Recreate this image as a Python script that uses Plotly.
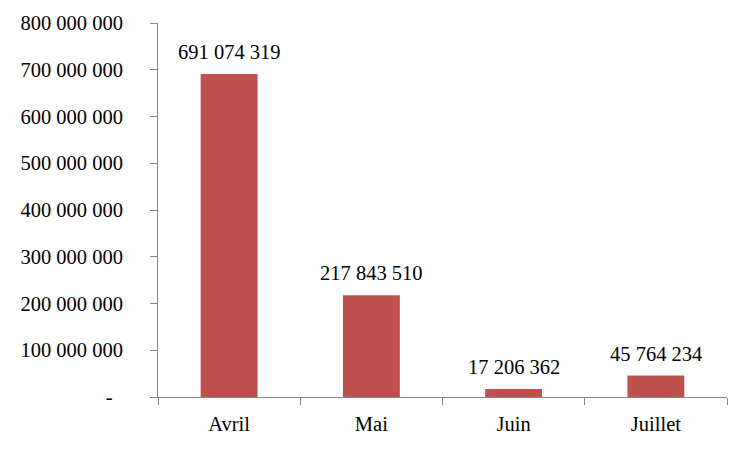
import plotly.graph_objects as go

months = ["Avril", "Mai", "Juin", "Juillet"]
values = [691074319, 217843510, 17206362, 45764234]
y_ticks = [0, 100000000, 200000000, 300000000, 400000000, 500000000, 600000000, 700000000, 800000000]

def fmt(v):
    return f"{v:,}".replace(",", " ")

tick_text = ["-\u00a0\u00a0" if t == 0 else fmt(t) for t in y_ticks]
FONT = "'Liberation Serif', 'Times New Roman', serif"
FS = 20.5

fig = go.Figure(go.Bar(
    x=months, y=values,
    marker=dict(color="#C0504D", line=dict(width=0)),
    hoverinfo="x+y",
))

for m, v in zip(months, values):
    fig.add_annotation(
        x=m, y=v, text=fmt(v), showarrow=False,
        xanchor="center", yanchor="bottom", yshift=9,
        font=dict(family=FONT, size=FS, color="black"),
    )

# page body has an 8px margin, so the figure is shifted by (8, 8)
fig.update_layout(
    width=742, height=442,
    margin=dict(l=150, r=23, t=15, b=53, autoexpand=False),
    plot_bgcolor="white", paper_bgcolor="white",
    bargap=0.6,
    showlegend=False,
    font=dict(family=FONT, size=FS, color="black"),
)
fig.update_xaxes(
    showline=True, linecolor="#868686", linewidth=1,
    ticks="outside", tickson="boundaries", ticklen=7, tickcolor="#868686",
    showgrid=False, automargin=False,
    ticklabelstandoff=8,
    tickfont=dict(family=FONT, size=FS, color="black"),
)
fig.update_yaxes(
    range=[0, 800000000],
    tickvals=y_ticks, ticktext=tick_text,
    showline=True, linecolor="#868686", linewidth=1,
    ticks="outside", ticklen=7, tickcolor="#868686",
    showgrid=False, zeroline=False, automargin=False,
    ticklabelstandoff=23,
    tickfont=dict(family=FONT, size=FS, color="black"),
)

fig.write_html("out.html")
